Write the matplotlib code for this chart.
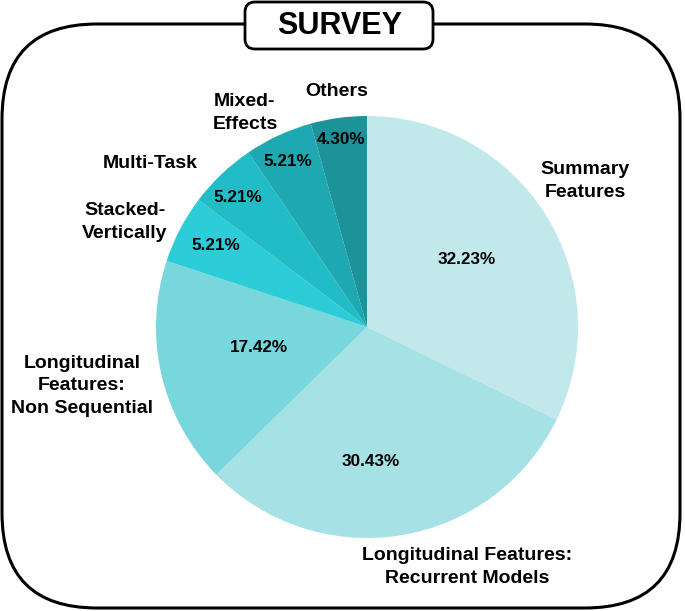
import matplotlib
matplotlib.use("Agg")
import matplotlib.pyplot as plt
from matplotlib.patches import FancyBboxPatch

plt.rcParams['font.family'] = ['Liberation Sans', 'DejaVu Sans']

categories = ["Summary\nFeatures", "Longitudinal Features:\nRecurrent Models",
              "Longitudinal\nFeatures:\nNon Sequential", "Stacked-\nVertically",
              "Multi-Task", "Mixed-\nEffects", "Others"]
values = [32.23, 30.43, 17.42, 5.21, 5.21, 5.21, 4.30]
colors = ["#c1e8eb", "#a6e1e6", "#78d6dd", "#2ccdd8", "#22bcc6", "#1ea8b2", "#1b9399"]
title = "SURVEY"

# label positions (pixel layout)
label_pos = [(585, 181), (467, 567), (82, 386), (125, 222), (150, 163), (245, 113), (337, 92)]
pct_pos = [(467, 260), (371, 461), (259, 348), (216, 246), (238, 197), (288, 162), (341, 140)]

W, H = 685, 611
fig = plt.figure(figsize=(W / 100, H / 100), dpi=100)

cx, cy, r = 367, 327, 211
ax = fig.add_axes([(cx - r) / W, (H - cy - r) / H, 2 * r / W, 2 * r / H])
ax.pie(values, colors=colors, startangle=90, counterclock=False,
       wedgeprops=dict(linewidth=0))
ax.set_xlim(-1, 1)
ax.set_ylim(-1, 1)
ax.axis('off')

ov = fig.add_axes([0, 0, 1, 1], facecolor='none')
ov.set_xlim(0, W)
ov.set_ylim(H, 0)
ov.axis('off')

# outer frame
frame = FancyBboxPatch((2 + 95, 24 + 95), 678 - 190, 584 - 190,
                       boxstyle="round,pad=95", fill=False, edgecolor='black',
                       linewidth=2.2, zorder=1)
ov.add_patch(frame)
# title box
tb = FancyBboxPatch((245 + 10, 2 + 10), 188 - 20, 47 - 20,
                    boxstyle="round,pad=10", facecolor='white', edgecolor='black',
                    linewidth=2.0, zorder=3)
ov.add_patch(tb)
ov.text(340, 26, title, ha='center', va='center', fontsize=22,
        fontweight='bold', zorder=4)

for lab, (x, y) in zip(categories, label_pos):
    ov.text(x, y, lab, ha='center', va='center', fontsize=14,
            fontweight='bold', linespacing=1.4)

for v, (x, y) in zip(values, pct_pos):
    ov.text(x, y, f"{v:.2f}%", ha='center', va='center', fontsize=12.3,
            fontweight='bold')

fig.savefig("out.png", dpi=100)
